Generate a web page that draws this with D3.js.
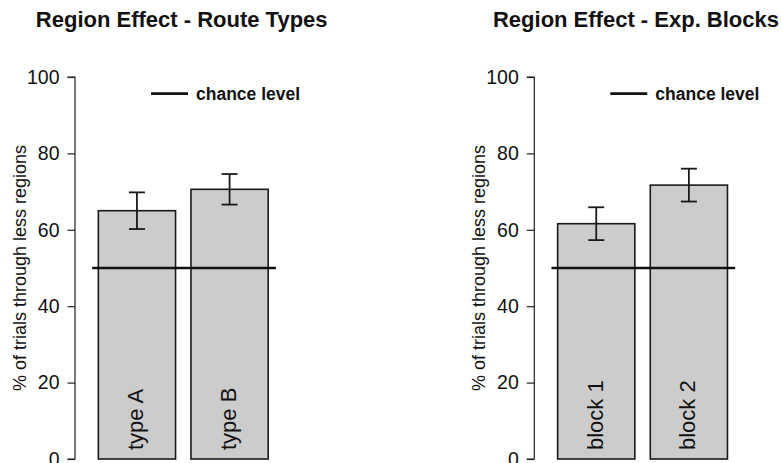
<!DOCTYPE html>
<html>
<head>
<meta charset="utf-8">
<script src="https://cdn.jsdelivr.net/npm/d3@7"></script>
<style>
  html, body { margin: 0; padding: 0; background: #fff; }
  svg { display: block; font-family: "Liberation Sans", Arial, Helvetica, sans-serif; }
</style>
</head>
<body>
<svg id="chart" width="782" height="463"></svg>
<script>
// Panel 1: route types
const routeTitle = "Region Effect - Route Types";
const routeCategories = ["type A", "type B"];
const routeMeans = [65.0, 70.6];
const routeSE = [4.8, 4.0];

// Panel 2: experimental blocks
const blockTitle = "Region Effect - Exp. Blocks";
const blockCategories = ["block 1", "block 2"];
const blockMeans = [61.6, 71.7];
const blockSE = [4.3, 4.3];

const yTicks = [0, 20, 40, 60, 80, 100];
const chanceLevel = 50;
const yLabel = "% of trials through less regions";
const legendLabel = "chance level";

const svg = d3.select("#chart");

const y = d3.scaleLinear().domain([0, 100]).range([459, 77]);

function drawPanel(offsetX, titleCenter, title, cats, means, se) {
  const g = svg.append("g").attr("transform", `translate(${offsetX},0)`);
  // barplot-style units: bars of width 1 separated by 0.2
  const x = d3.scaleLinear().domain([0, 2.6]).range([82.9, 82.9 + 2.6 * 77.2]);
  const bars = cats.map((c, i) => ({ c, m: means[i], s: se[i], x0: 0.2 + i * 1.2, x1: 1.2 + i * 1.2 }));

  // title
  g.append("text")
    .attr("x", titleCenter)
    .attr("y", 27)
    .attr("text-anchor", "middle")
    .attr("font-weight", "bold")
    .attr("font-size", 22)
    .attr("fill", "#111")
    .text(title);

  // y axis
  const axisX = x(0) - 7.9;
  const axis = d3.axisLeft(y).tickValues(yTicks).tickSize(7.5).tickPadding(8).tickFormat(d3.format("d"));
  const ag = g.append("g").attr("transform", `translate(${axisX},0)`).call(axis);
  ag.select(".domain").attr("stroke", "#222").attr("stroke-width", 1.2).attr("d", `M-7.5,${y(0)}H0V${y(100)}H-7.5`);
  ag.selectAll(".tick line").attr("stroke", "#222").attr("stroke-width", 1.2);
  ag.selectAll(".tick text")
    .attr("font-size", 19.5)
    .attr("fill", "#111")
    .attr("font-family", "Liberation Sans, Arial, sans-serif");

  // y label
  g.append("text")
    .attr("transform", `translate(26,${(y(0) + y(100)) / 2}) rotate(-90)`)
    .attr("text-anchor", "middle")
    .attr("font-size", 18)
    .attr("fill", "#111")
    .text(yLabel);

  // bars
  g.selectAll("rect.bar").data(bars).join("rect")
    .attr("class", "bar")
    .attr("x", d => x(d.x0))
    .attr("width", d => x(d.x1) - x(d.x0))
    .attr("y", d => y(d.m))
    .attr("height", d => y(0) - y(d.m))
    .attr("fill", "#cccccc")
    .attr("stroke", "#1a1a1a")
    .attr("stroke-width", 1.6);

  // bar names, written upward from the bar base
  g.selectAll("text.name").data(bars).join("text")
    .attr("class", "name")
    .attr("transform", d => `translate(${(x(d.x0) + x(d.x1)) / 2 + 6.5},${y(0) - 9}) rotate(-90)`)
    .attr("text-anchor", "start")
    .attr("font-size", 22)
    .attr("fill", "#111")
    .text(d => d.c);

  // error bars
  const eb = g.selectAll("g.err").data(bars).join("g").attr("class", "err")
    .attr("stroke", "#1a1a1a").attr("stroke-width", 1.8);
  eb.append("line")
    .attr("x1", d => (x(d.x0) + x(d.x1)) / 2).attr("x2", d => (x(d.x0) + x(d.x1)) / 2)
    .attr("y1", d => y(d.m + d.s)).attr("y2", d => y(d.m - d.s));
  eb.append("line")
    .attr("x1", d => (x(d.x0) + x(d.x1)) / 2 - 8).attr("x2", d => (x(d.x0) + x(d.x1)) / 2 + 8)
    .attr("y1", d => y(d.m + d.s)).attr("y2", d => y(d.m + d.s));
  eb.append("line")
    .attr("x1", d => (x(d.x0) + x(d.x1)) / 2 - 8).attr("x2", d => (x(d.x0) + x(d.x1)) / 2 + 8)
    .attr("y1", d => y(d.m - d.s)).attr("y2", d => y(d.m - d.s));

  // chance level line
  g.append("line")
    .attr("x1", x(0.12)).attr("x2", x(2.5))
    .attr("y1", y(chanceLevel)).attr("y2", y(chanceLevel))
    .attr("stroke", "#111").attr("stroke-width", 2.4);

  // legend
  g.append("line")
    .attr("x1", 151).attr("x2", 188)
    .attr("y1", 93.7).attr("y2", 93.7)
    .attr("stroke", "#111").attr("stroke-width", 2.8);
  g.append("text")
    .attr("x", 196)
    .attr("y", 99.5)
    .attr("font-weight", "bold")
    .attr("font-size", 17.5)
    .attr("fill", "#111")
    .text(legendLabel);
}

drawPanel(0, 181.7, routeTitle, routeCategories, routeMeans, routeSE);
drawPanel(459.3, 176.7, blockTitle, blockCategories, blockMeans, blockSE);
</script>
</body>
</html>
